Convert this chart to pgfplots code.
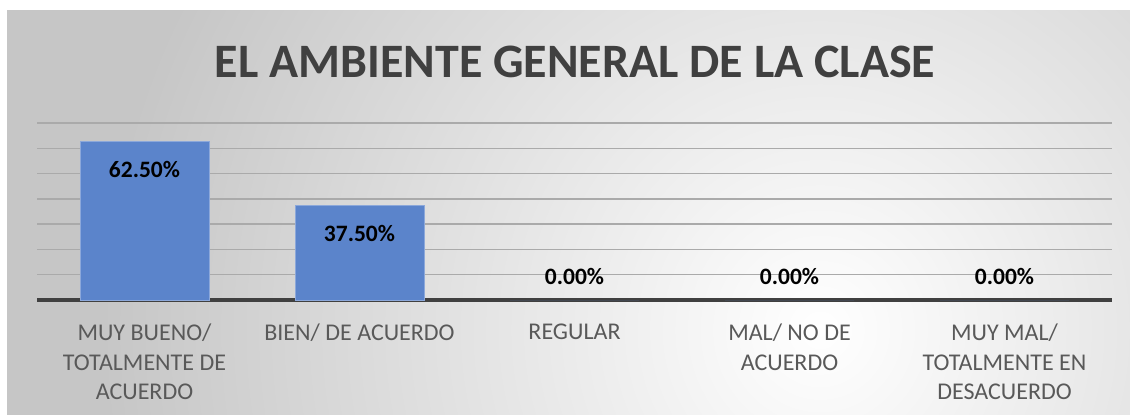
\documentclass[border=0pt]{standalone}
\usepackage{fontspec}
\setmainfont{Carlito}
\usepackage{pgfplots}
\pgfplotsset{compat=1.18}

\definecolor{barblue}{RGB}{91,132,203}
\definecolor{baredge}{RGB}{140,168,218}
\definecolor{bggrey}{RGB}{198,198,198}
\definecolor{gridgrey}{RGB}{170,170,170}
\definecolor{baseline}{RGB}{64,64,64}
\definecolor{titlegrey}{RGB}{64,64,64}
\definecolor{labelgrey}{RGB}{89,89,89}

% soft white spot, grey reached at 6/7 of the radius
\pgfdeclareradialshading{bgspot}{\pgfpoint{0bp}{0bp}}{%
  color(0bp)=(white); color(21.4bp)=(bggrey); color(25bp)=(bggrey); color(50bp)=(bggrey)}

\begin{document}
\begin{tikzpicture}[x=1pt,y=1pt]
\path[use as bounding box] (0,0) rectangle (565,207);
% chart area background
\begin{scope}
  \clip (3.5,0) rectangle (565,202);
  \fill[bggrey] (3.5,0) rectangle (565,202);
  \shade[shading=bgspot] (410,42) circle (420);
\end{scope}

\node[anchor=base, text=titlegrey, font=\fontsize{24}{28}\selectfont\bfseries]
  at (287.5,168.5) {EL AMBIENTE GENERAL DE LA CLASE};

\begin{axis}[
  at={(18.5pt,57pt)}, anchor=south west,
  scale only axis, width=537.5pt, height=88.5pt,
  xmin=-0.5, xmax=4.5, ymin=0, ymax=70,
  clip=false,
  axis line style={draw=none},
  tick style={draw=none},
  ytick={10,20,...,70}, yticklabels={},
  ymajorgrids, grid style={draw=gridgrey, line width=0.75pt},
  extra y ticks={0}, extra y tick labels={},
  extra y tick style={grid style={draw=baseline, line width=1.6pt}},
  xtick={0,1,2,3,4},
  xticklabels={{MUY BUENO/\\TOTALMENTE DE\\ACUERDO},{BIEN/ DE ACUERDO},{REGULAR},{MAL/ NO DE\\ACUERDO},{MUY MAL/\\TOTALMENTE EN\\DESACUERDO}},
  xticklabel style={align=center, anchor=north, inner sep=0pt, yshift=-7.5pt,
    text=labelgrey, font=\fontsize{12}{14.75}\selectfont},
  ybar, bar width=64.5pt, bar shift=0pt,
  point meta=explicit symbolic,
  nodes near coords,
]
\addplot[fill=barblue, draw=baredge, line width=0.5pt,
  every node near coord/.append style={anchor=center, yshift=-14pt,
    font=\fontsize{11.75}{14}\selectfont\bfseries, text=black}]
  coordinates {(0,62.5) [62.50\%] (1,37.5) [37.50\%]};
\addplot[fill=barblue, draw=none,
  every node near coord/.append style={anchor=center, yshift=12pt,
    font=\fontsize{11.75}{14}\selectfont\bfseries, text=black}]
  coordinates {(2,0) [0.00\%] (3,0) [0.00\%] (4,0) [0.00\%]};
\end{axis}
\end{tikzpicture}
\end{document}
